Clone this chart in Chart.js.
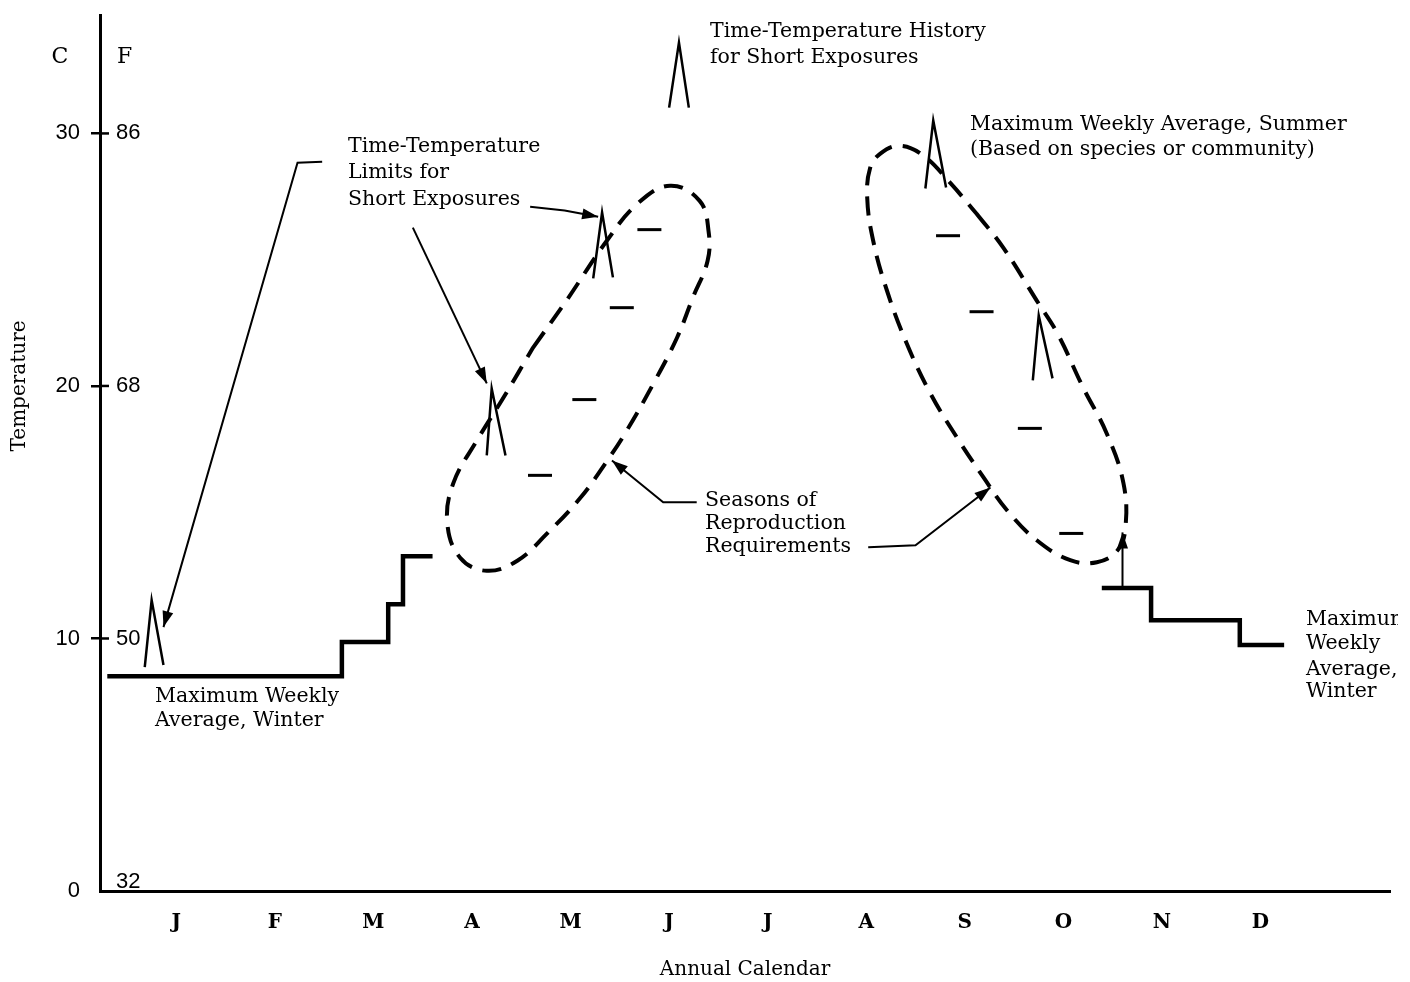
<!DOCTYPE html>
<html lang="en">
<head>
<meta charset="UTF-8">
<title>Temperature criteria over the year</title>
<script src="https://cdn.jsdelivr.net/npm/chart.js@4.4.1/dist/chart.umd.min.js"></script>
<style>
  html, body { margin: 0; padding: 0; background: #fff; }
  canvas { display: block; }
</style>
</head>
<body>
<canvas id="chart" width="1410" height="982" style="width:1410px;height:982px"></canvas>
<script>
// x = months since 1 Jan, y = degrees C
const monthLetters = ['J', 'F', 'M', 'A', 'M', 'J', 'J', 'A', 'S', 'O', 'N', 'D'];
const celsiusTicks = [0, 10, 20, 30];
const fahrenheitTicks = ['32', '50', '68', '86'];

// maximum weekly average (stepped)
const riseMonths = [-0.2, 2.18, 2.65, 2.8, 3.1];
const riseTemps = [8.5, 9.86, 11.36, 13.26, 13.26];
const fallMonths = [9.89, 10.39, 11.29, 11.74];
const fallTemps = [12.0, 10.72, 9.74, 9.74];

// seasons of reproduction requirements (dashed loops)
const springLoopMonths = [4.12, 4.46, 4.87, 5.18, 5.51, 5.81, 5.90, 5.89, 5.74, 5.58, 5.34, 5.07, 4.87, 4.60, 4.26, 3.96, 3.65, 3.38, 3.25, 3.31, 3.55, 3.82, 4.12];
const springLoopTemps = [21.52, 23.39, 25.76, 27.22, 27.93, 27.33, 26.14, 24.95, 23.49, 21.91, 20.09, 18.23, 17.03, 15.57, 14.15, 13.08, 12.68, 13.20, 14.56, 16.14, 17.84, 19.54, 21.52];
const autumnLoopMonths = [8.62, 8.89, 9.23, 9.44, 9.70, 9.94, 10.11, 10.13, 10.05, 9.84, 9.57, 9.23, 8.93, 8.69, 8.42, 8.15, 7.91, 7.71, 7.57, 7.51, 7.54, 7.64, 7.84, 8.08, 8.35, 8.62];
const autumnLoopTemps = [26.82, 25.48, 23.38, 22.08, 19.94, 18.12, 16.14, 14.40, 13.49, 13.02, 13.10, 13.89, 15.07, 16.38, 17.96, 19.71, 21.69, 23.78, 25.76, 27.45, 28.64, 29.19, 29.51, 29.12, 28.05, 26.82];

// short exposure peaks (inverted V)
const spikeMonths = [[0.18, 0.25, 0.37], [3.65, 3.70, 3.84], [4.73, 4.82, 4.93], [5.50, 5.60, 5.70], [8.10, 8.18, 8.31], [9.19, 9.25, 9.39]];
const spikeTemps = [[8.87, 11.52, 8.95], [17.25, 19.90, 17.25], [24.26, 26.87, 24.30], [31.02, 33.60, 31.02], [27.82, 30.51, 27.86], [20.22, 22.79, 20.30]];

// weekly averages inside the loops
const weeklyMonths = [4.19, 4.64, 5.02, 5.30, 8.33, 8.67, 9.16, 9.58];
const weeklyTemps = [16.46, 19.46, 23.10, 26.19, 25.95, 22.94, 18.32, 14.16];

// leader arrows (last point is the tip)
const arrowMonths = [[1.98, 1.73, 0.37], [4.09, 4.44, 4.78], [2.90, 3.65], [5.78, 5.44, 4.92], [7.52, 8.00, 8.76], [10.10, 10.10]];
const arrowTemps = [[28.88, 28.84, 10.45], [27.10, 26.95, 26.70], [26.27, 20.10], [15.39, 15.39, 17.05], [13.61, 13.69, 15.98], [11.99, 14.20]];

// labels, anchored at their left edge
const noteText = ['Time-Temperature History', 'for Short Exposures',
  'Maximum Weekly Average, Summer', '(Based on species or community)',
  'Time-Temperature', 'Limits for', 'Short Exposures',
  'Seasons of', 'Reproduction', 'Requirements',
  'Maximum Weekly', 'Average, Winter',
  'Maximum', 'Weekly', 'Average,', 'Winter'];
const noteMonths = [5.915, 5.915, 8.553, 8.553, 2.242, 2.242, 2.242, 5.864, 5.864, 5.864, 0.284, 0.284, 11.962, 11.962, 11.962, 11.962];
const noteTemps = [34.03, 33.0, 30.33, 29.36, 29.46, 28.45, 27.38, 15.47, 14.53, 13.62, 7.70, 6.73, 10.73, 9.78, 8.75, 7.88];

const serif = '"DejaVu Serif", serif';
const sans = '"Liberation Sans", Arial, sans-serif';

function pts(months, temps) {
    return months.map((m, i) => ({x: m, y: temps[i]}));
}

function lineSet(months, temps, extra) {
    return Object.assign({
        data: pts(months, temps),
        showLine: true,
        borderColor: '#000',
        backgroundColor: '#000',
        pointRadius: 0,
        fill: false
    }, extra);
}

const datasets = [
    lineSet(riseMonths, riseTemps, {stepped: true, borderWidth: 4.5}),
    lineSet(fallMonths, fallTemps, {stepped: true, borderWidth: 4.5}),
    lineSet(springLoopMonths, springLoopTemps, {borderWidth: 4, borderDash: [19, 11], tension: 0.4}),
    lineSet(autumnLoopMonths, autumnLoopTemps, {borderWidth: 4, borderDash: [19, 11], tension: 0.4})
];
spikeMonths.forEach((m, i) => datasets.push(lineSet(m, spikeTemps[i], {borderWidth: 2.5})));
datasets.push({
    data: pts(weeklyMonths, weeklyTemps),
    showLine: false,
    pointStyle: 'line',
    pointRadius: 12,
    pointBorderWidth: 3,
    pointBorderColor: '#000'
});

const overlay = {
    id: 'overlay',
    afterDatasetsDraw(chart) {
        const {ctx, chartArea, scales: {x, y}} = chart;
        const left = chartArea.left;
        ctx.save();
        ctx.fillStyle = '#000';
        ctx.strokeStyle = '#000';

        // inside half of the tick crosses + fahrenheit column
        ctx.lineWidth = 2.5;
        ctx.font = '22px ' + sans;
        ctx.textAlign = 'left';
        ctx.textBaseline = 'middle';
        celsiusTicks.forEach((c, i) => {
            const py = y.getPixelForValue(c);
            if (c > 0) {
                ctx.beginPath();
                ctx.moveTo(left, py);
                ctx.lineTo(left + 9, py);
                ctx.stroke();
            }
            ctx.fillText(fahrenheitTicks[i], left + 16, c > 0 ? py : py - 9);
        });

        // unit headings
        ctx.font = '22px ' + serif;
        const hy = y.getPixelForValue(33);
        ctx.textAlign = 'center';
        ctx.fillText('C', left - 40, hy);
        ctx.textAlign = 'left';
        ctx.fillText('F', left + 17, hy);

        // y axis title
        ctx.save();
        ctx.translate(20, y.getPixelForValue(20));
        ctx.rotate(-Math.PI / 2);
        ctx.font = '20px ' + serif;
        ctx.textAlign = 'center';
        ctx.fillText('Temperature', 0, 0);
        ctx.restore();

        // arrows
        ctx.lineWidth = 2;
        arrowMonths.forEach((m, i) => {
            const p = m.map((v, j) => [x.getPixelForValue(v), y.getPixelForValue(arrowTemps[i][j])]);
            ctx.beginPath();
            ctx.moveTo(p[0][0], p[0][1]);
            p.slice(1).forEach(q => ctx.lineTo(q[0], q[1]));
            ctx.stroke();
            const tip = p[p.length - 1], prev = p[p.length - 2];
            const a = Math.atan2(tip[1] - prev[1], tip[0] - prev[0]);
            ctx.beginPath();
            ctx.moveTo(tip[0], tip[1]);
            ctx.lineTo(tip[0] - 16 * Math.cos(a) + 5.5 * Math.sin(a), tip[1] - 16 * Math.sin(a) - 5.5 * Math.cos(a));
            ctx.lineTo(tip[0] - 16 * Math.cos(a) - 5.5 * Math.sin(a), tip[1] - 16 * Math.sin(a) + 5.5 * Math.cos(a));
            ctx.closePath();
            ctx.fill();
        });

        // notes
        ctx.beginPath();
        ctx.rect(0, 0, 1398, chart.height);
        ctx.clip();
        ctx.font = '20.5px ' + serif;
        ctx.textAlign = 'left';
        ctx.textBaseline = 'middle';
        noteText.forEach((t, i) => {
            ctx.fillText(t, x.getPixelForValue(noteMonths[i]), y.getPixelForValue(noteTemps[i]));
        });
        ctx.restore();
    }
};

new Chart('chart', {
    type: 'scatter',
    data: {datasets: datasets},
    options: {
        responsive: false,
        animation: false,
        devicePixelRatio: 1,
        events: [],
        layout: {padding: {top: 5, right: 20, left: 0, bottom: 0}},
        plugins: {legend: {display: false}, tooltip: {enabled: false}},
        scales: {
            x: {
                type: 'linear',
                min: -0.274,
                max: 12.814,
                afterFit: s => { s.height = 91; s.paddingLeft = 0; s.paddingRight = 0; },
                afterBuildTicks: s => { s.ticks = monthLetters.map((m, i) => ({value: i + 0.5})); },
                ticks: {
                    callback: (v, i) => monthLetters[i],
                    color: '#000',
                    font: {family: serif, size: 20, weight: 'bold'},
                    padding: 20,
                    maxRotation: 0,
                    autoSkip: false
                },
                grid: {drawOnChartArea: false, drawTicks: false},
                border: {display: true, color: '#000', width: 3},
                title: {
                    display: true,
                    text: 'Annual Calendar',
                    color: '#000',
                    font: {family: serif, size: 20},
                    padding: {top: 0, bottom: 0}
                }
            },
            y: {
                type: 'linear',
                min: 0,
                max: 34.69,
                afterFit: s => { s.width = 100; s.paddingTop = 0; s.paddingBottom = 0; },
                afterBuildTicks: s => { s.ticks = celsiusTicks.map(v => ({value: v})); },
                ticks: {
                    color: '#000',
                    font: {family: sans, size: 22},
                    padding: 11
                },
                grid: {
                    drawOnChartArea: false,
                    drawTicks: true,
                    tickLength: 9,
                    color: '#000',
                    lineWidth: c => (c.tick && c.tick.value === 0 ? 0 : 2.5)
                },
                border: {display: true, color: '#000', width: 3}
            }
        }
    },
    plugins: [overlay]
});
</script>
</body>
</html>
